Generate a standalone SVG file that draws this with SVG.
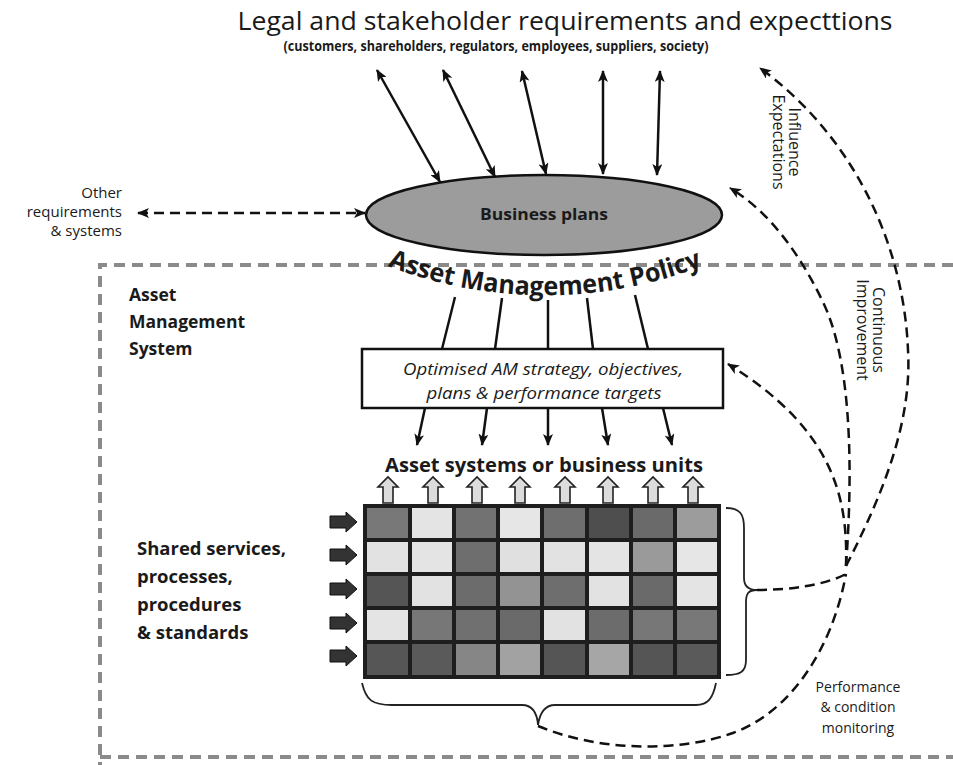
<svg xmlns="http://www.w3.org/2000/svg" width="953" height="765" viewBox="0 0 953 765">
<style>
text{font-family:"Open Sans","Noto Sans","Liberation Sans",sans-serif;fill:#1a1a1a}
.b{font-weight:bold}
.solid{stroke:#111;stroke-width:2.5;fill:none}
.dash{stroke:#111;stroke-width:2.5;fill:none;stroke-dasharray:10 6}
.border{stroke:#8a8a8a;stroke-width:4;fill:none;stroke-dasharray:11 7}
.cell{stroke:none}
.up{fill:#dcdcdc;stroke:#222;stroke-width:1.6}
.rt{fill:#333;stroke:#111;stroke-width:1}
.brace{stroke:#222;stroke-width:1.8;fill:none}
.side{font-size:13.5}
</style>
<defs>
<marker id="ah" viewBox="0 0 12 10" refX="11" refY="5" markerWidth="12" markerHeight="10" markerUnits="userSpaceOnUse" orient="auto-start-reverse">
<path d="M0,0 L12,5 L0,10 L3,5 z" fill="#111"/>
</marker>
<path id="polpath" d="M368,258 A439,439 0 0 0 722,258"/>
</defs>

<g id="border">
<path class="border" d="M953,265 H100 V765"/>
<path class="border" d="M100,757 H953"/>
</g>

<g id="title">
<text x="565" y="30" font-size="26" text-anchor="middle" textLength="655" lengthAdjust="spacingAndGlyphs">Legal and stakeholder requirements and expecttions</text>
<text class="b" x="496" y="51" font-size="13.5" text-anchor="middle" textLength="425" lengthAdjust="spacingAndGlyphs">(customers, shareholders, regulators, employees, suppliers, society)</text>
</g>

<g id="other">
<text x="122" y="198" font-size="15" text-anchor="end">Other</text>
<text x="122" y="217" font-size="15" text-anchor="end">requirements</text>
<text x="122" y="236" font-size="15" text-anchor="end">&amp; systems</text>
</g>

<g id="business-plans">
<ellipse cx="544" cy="215" rx="178" ry="40" fill="#9c9c9c" stroke="#111" stroke-width="2.5"/>
<text class="b" x="544" y="220" font-size="16" text-anchor="middle" textLength="128" lengthAdjust="spacingAndGlyphs">Business plans</text>
</g>

<g id="policy">
<text class="b" font-size="26"><textPath href="#polpath" startOffset="50%" text-anchor="middle" textLength="322" lengthAdjust="spacingAndGlyphs">Asset Management Policy</textPath></text>
</g>

<g id="ams-label">
<text class="b" x="129" y="301" font-size="17.5">Asset</text>
<text class="b" x="129" y="328" font-size="17.5">Management</text>
<text class="b" x="129" y="355" font-size="17.5">System</text>
</g>

<g id="strategy-box">
<rect x="362" y="349" width="361" height="59" fill="#fff" stroke="#111" stroke-width="2.5"/>
<text x="543" y="375" font-size="16" font-style="italic" text-anchor="middle" textLength="280" lengthAdjust="spacingAndGlyphs">Optimised AM strategy, objectives,</text>
<text x="544" y="399" font-size="16" font-style="italic" text-anchor="middle" textLength="235" lengthAdjust="spacingAndGlyphs">plans &amp; performance targets</text>
</g>

<g id="units-label">
<text class="b" x="544" y="472" font-size="20" text-anchor="middle" textLength="318" lengthAdjust="spacingAndGlyphs">Asset systems or business units</text>
</g>

<g id="shared-label">
<text class="b" x="137" y="555" font-size="18.5">Shared services,</text>
<text class="b" x="137" y="583" font-size="18.5">processes,</text>
<text class="b" x="137" y="611" font-size="18.5">procedures</text>
<text class="b" x="137" y="639" font-size="18.5">&amp; standards</text>
</g>

<g id="grid">
<rect x="363" y="504" width="358" height="175" fill="#1e1e1e"/>
<g class="cell">
<rect x="367" y="508" width="41" height="30" fill="#787878"/>
<rect x="412" y="508" width="40" height="30" fill="#e4e4e4"/>
<rect x="456" y="508" width="40" height="30" fill="#727272"/>
<rect x="500" y="508" width="40" height="30" fill="#e6e6e6"/>
<rect x="544" y="508" width="41" height="30" fill="#6e6e6e"/>
<rect x="589" y="508" width="40" height="30" fill="#4e4e4e"/>
<rect x="633" y="508" width="40" height="30" fill="#6a6a6a"/>
<rect x="677" y="508" width="40" height="30" fill="#9c9c9c"/>

<rect x="367" y="542" width="41" height="30" fill="#e2e2e2"/>
<rect x="412" y="542" width="40" height="30" fill="#e4e4e4"/>
<rect x="456" y="542" width="40" height="30" fill="#6e6e6e"/>
<rect x="500" y="542" width="40" height="30" fill="#e0e0e0"/>
<rect x="544" y="542" width="41" height="30" fill="#e2e2e2"/>
<rect x="589" y="542" width="40" height="30" fill="#e4e4e4"/>
<rect x="633" y="542" width="40" height="30" fill="#9a9a9a"/>
<rect x="677" y="542" width="40" height="30" fill="#e6e6e6"/>

<rect x="367" y="576" width="41" height="30" fill="#555555"/>
<rect x="412" y="576" width="40" height="30" fill="#e2e2e2"/>
<rect x="456" y="576" width="40" height="30" fill="#6c6c6c"/>
<rect x="500" y="576" width="40" height="30" fill="#939393"/>
<rect x="544" y="576" width="41" height="30" fill="#6e6e6e"/>
<rect x="589" y="576" width="40" height="30" fill="#e2e2e2"/>
<rect x="633" y="576" width="40" height="30" fill="#6a6a6a"/>
<rect x="677" y="576" width="40" height="30" fill="#e4e4e4"/>

<rect x="367" y="610" width="41" height="30" fill="#e4e4e4"/>
<rect x="412" y="610" width="40" height="30" fill="#777777"/>
<rect x="456" y="610" width="40" height="30" fill="#707070"/>
<rect x="500" y="610" width="40" height="30" fill="#6a6a6a"/>
<rect x="544" y="610" width="41" height="30" fill="#e2e2e2"/>
<rect x="589" y="610" width="40" height="30" fill="#6c6c6c"/>
<rect x="633" y="610" width="40" height="30" fill="#777777"/>
<rect x="677" y="610" width="40" height="30" fill="#787878"/>

<rect x="367" y="644" width="41" height="31" fill="#565656"/>
<rect x="412" y="644" width="40" height="31" fill="#5a5a5a"/>
<rect x="456" y="644" width="40" height="31" fill="#868686"/>
<rect x="500" y="644" width="40" height="31" fill="#a2a2a2"/>
<rect x="544" y="644" width="41" height="31" fill="#555555"/>
<rect x="589" y="644" width="40" height="31" fill="#a6a6a6"/>
<rect x="633" y="644" width="40" height="31" fill="#555555"/>
<rect x="677" y="644" width="40" height="31" fill="#5a5a5a"/>
</g>
</g>

<g id="up-arrows">
<path class="up" d="M383,503 V487 H378 L388,477 L398,487 H393 V503 Z"/>
<path class="up" d="M428,503 V487 H423 L433,477 L443,487 H438 V503 Z"/>
<path class="up" d="M472,503 V487 H467 L477,477 L487,487 H482 V503 Z"/>
<path class="up" d="M515,503 V487 H510 L520,477 L530,487 H525 V503 Z"/>
<path class="up" d="M560,503 V487 H555 L565,477 L575,487 H570 V503 Z"/>
<path class="up" d="M603,503 V487 H598 L608,477 L618,487 H613 V503 Z"/>
<path class="up" d="M648,503 V487 H643 L653,477 L663,487 H658 V503 Z"/>
<path class="up" d="M688,503 V487 H683 L693,477 L703,487 H698 V503 Z"/>
</g>

<g id="right-arrows">
<path class="rt" d="M330,516 H346 V512 L357,522 L346,532 V528 H330 Z"/>
<path class="rt" d="M330,549 H346 V545 L357,555 L346,565 V561 H330 Z"/>
<path class="rt" d="M330,583 H346 V579 L357,589 L346,599 V595 H330 Z"/>
<path class="rt" d="M330,617 H346 V613 L357,623 L346,633 V629 H330 Z"/>
<path class="rt" d="M330,650 H346 V646 L357,656 L346,666 V662 H330 Z"/>
</g>

<g id="braces">
<path class="brace" d="M726,508 C740,508 744,514 744,528 V578 C744,586 748,590 757,590 C748,590 746,594 746,602 V660 C746,672 740,675 726,675"/>
<path class="brace" d="M362,683 C366,700 372,705 392,705 H522 C532,705 537,712 538,725 C540,712 545,705 555,705 H696 C708,705 713,698 716,683"/>
</g>

<g id="monitoring-label">
<text x="858" y="692" font-size="14" text-anchor="middle">Performance</text>
<text x="858" y="712" font-size="14" text-anchor="middle">&amp; condition</text>
<text x="858" y="733" font-size="14" text-anchor="middle">monitoring</text>
</g>

<g id="influence-label" transform="translate(784,142) rotate(90)">
<text class="side" x="0" y="-5" text-anchor="middle">Influence</text>
<text class="side" x="0" y="11" text-anchor="middle">Expectations</text>
</g>

<g id="improvement-label" transform="translate(868,330) rotate(90)">
<text class="side" x="0" y="-5" text-anchor="middle">Continuous</text>
<text class="side" x="0" y="11" text-anchor="middle">Improvement</text>
</g>

<g id="connectors">
<line class="solid" x1="440" y1="182" x2="377" y2="70" marker-start="url(#ah)" marker-end="url(#ah)"/>
<line class="solid" x1="495" y1="177" x2="443" y2="70" marker-start="url(#ah)" marker-end="url(#ah)"/>
<line class="solid" x1="546" y1="174" x2="522" y2="71" marker-start="url(#ah)" marker-end="url(#ah)"/>
<line class="solid" x1="603" y1="174" x2="603" y2="71" marker-start="url(#ah)" marker-end="url(#ah)"/>
<line class="solid" x1="657" y1="175" x2="660" y2="71" marker-start="url(#ah)" marker-end="url(#ah)"/>

<line class="dash" x1="138" y1="213" x2="365" y2="213" marker-start="url(#ah)" marker-end="url(#ah)"/>

<line class="solid" x1="455" y1="297" x2="442" y2="349"/>
<line class="solid" x1="502" y1="298" x2="495" y2="349"/>
<line class="solid" x1="548" y1="300" x2="548" y2="349"/>
<line class="solid" x1="587" y1="298" x2="593" y2="349"/>
<line class="solid" x1="635" y1="295" x2="648" y2="349"/>

<line class="solid" x1="425" y1="408" x2="417" y2="445" marker-end="url(#ah)"/>
<line class="solid" x1="487" y1="408" x2="482" y2="445" marker-end="url(#ah)"/>
<line class="solid" x1="548" y1="408" x2="548" y2="445" marker-end="url(#ah)"/>
<line class="solid" x1="602" y1="408" x2="608" y2="445" marker-end="url(#ah)"/>
<line class="solid" x1="663" y1="408" x2="672" y2="445" marker-end="url(#ah)"/>

<path class="dash" d="M846,566 C885,490 912,420 908,350 C904,250 858,140 760,68" marker-end="url(#ah)"/>
<path class="dash" d="M846,566 C853,470 852,360 822,300 C800,255 770,212 730,188" marker-end="url(#ah)"/>
<path class="dash" d="M846,566 C848,500 835,430 728,364" marker-end="url(#ah)"/>
<path class="dash" d="M757,590 C790,590 825,585 846,574"/>
<path class="dash" d="M538,726 C600,752 680,752 733,733 C790,712 832,650 846,574"/>
</g>
</svg>
